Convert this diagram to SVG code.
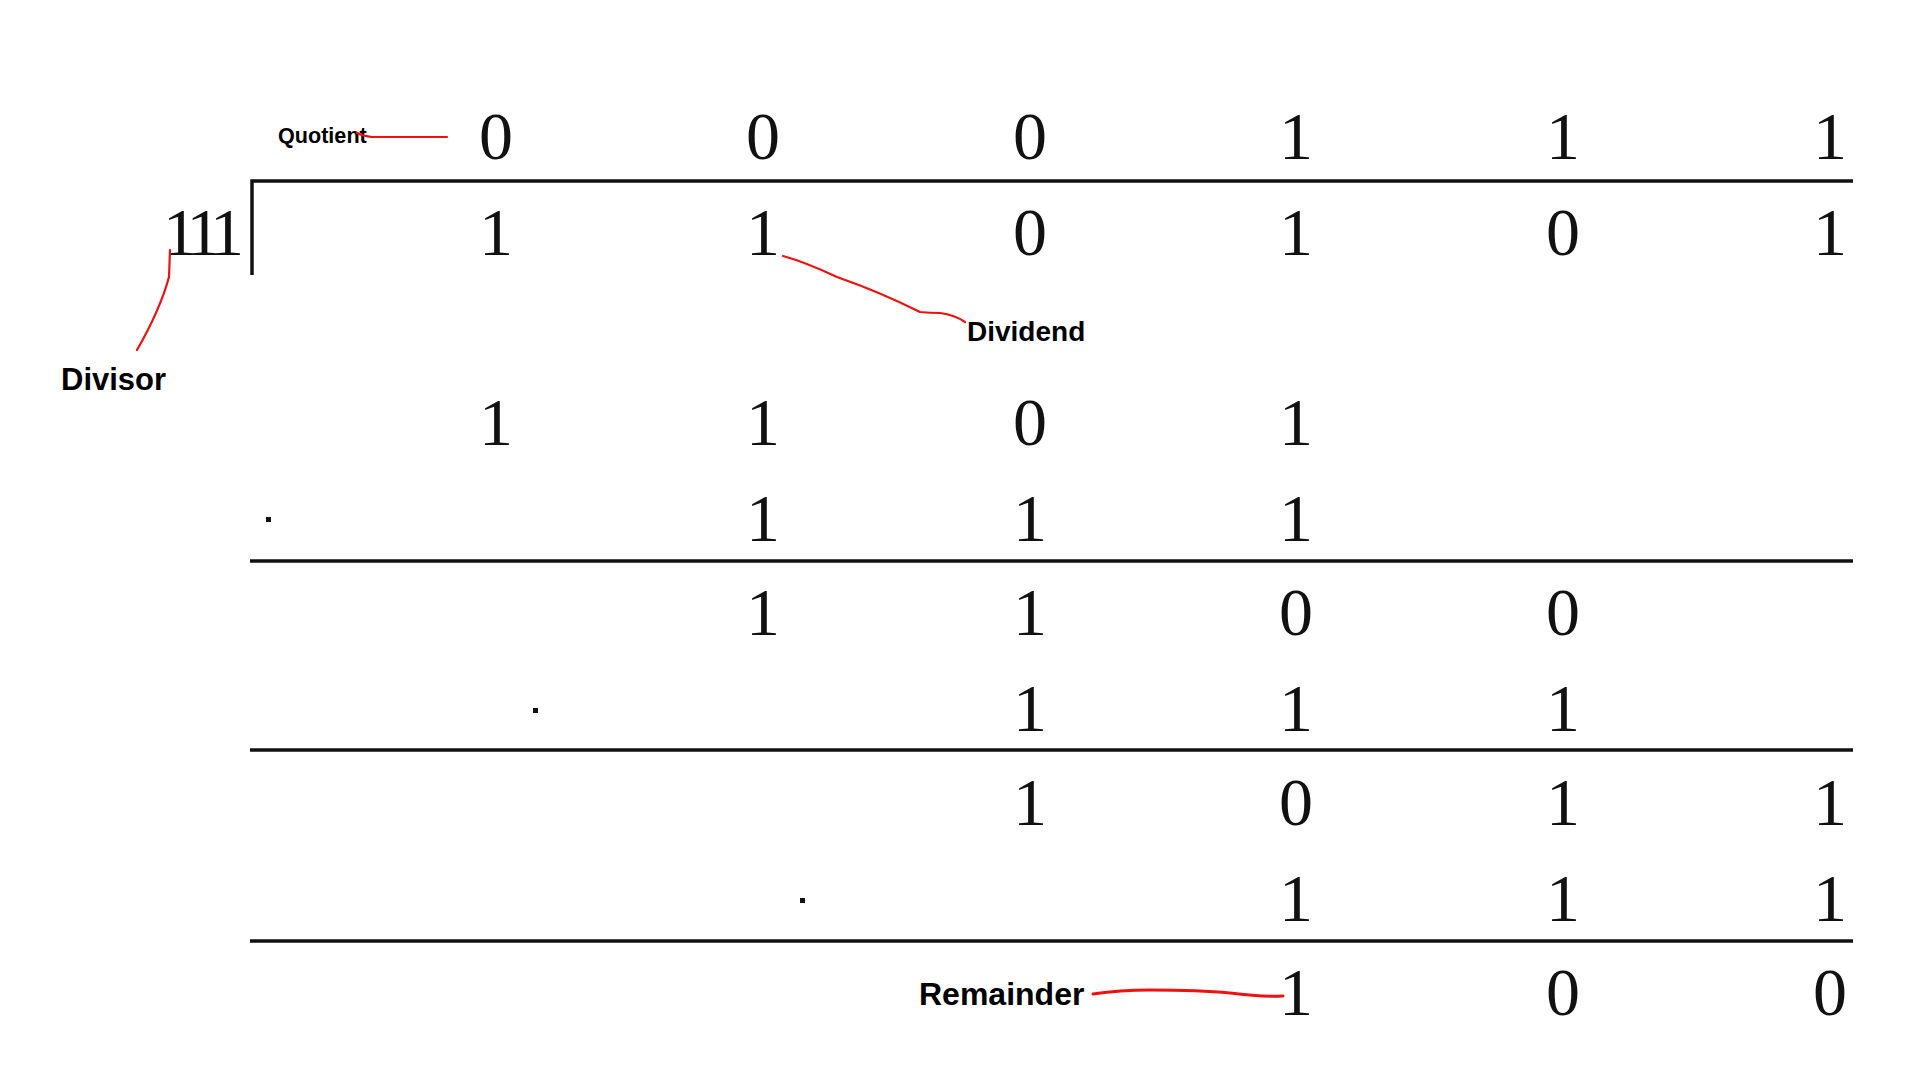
<svg xmlns="http://www.w3.org/2000/svg" width="1920" height="1080" viewBox="0 0 1920 1080">
<style>
.d{font-family:"Liberation Serif","Times New Roman",serif;font-size:68px;fill:#111;text-anchor:middle}
.lbl{font-family:"Liberation Sans",Arial,Helvetica,sans-serif;font-weight:bold;fill:#000}
.rule{stroke:#111;stroke-width:3.5;fill:none}
.red{stroke:#f01010;stroke-width:2.2;fill:none;stroke-linecap:round}
.dot{fill:#111}
</style>
<rect width="1920" height="1080" fill="#fff"/>
<g id="rules">
<path class="rule" d="M252 275 V181 H1853"/>
<line class="rule" x1="250" y1="561" x2="1853" y2="561"/>
<line class="rule" x1="250" y1="750" x2="1853" y2="750"/>
<line class="rule" x1="250" y1="941" x2="1853" y2="941"/>
</g>
<g id="dots">
<rect class="dot" x="266" y="517" width="5" height="5"/>
<rect class="dot" x="533" y="708" width="5" height="5"/>
<rect class="dot" x="800" y="898" width="5" height="5"/>
</g>
<g id="divisor-digits"><text class="d" x="163" y="255" style="text-anchor:start;letter-spacing:-8px">111</text></g>
<g id="quotient-row">
<text class="d" x="496" y="159">0</text><text class="d" x="763" y="159">0</text><text class="d" x="1030" y="159">0</text><text class="d" x="1296" y="159">1</text><text class="d" x="1563" y="159">1</text><text class="d" x="1830" y="159">1</text>
</g>
<g id="dividend-row">
<text class="d" x="496" y="255">1</text><text class="d" x="763" y="255">1</text><text class="d" x="1030" y="255">0</text><text class="d" x="1296" y="255">1</text><text class="d" x="1563" y="255">0</text><text class="d" x="1830" y="255">1</text>
</g>
<g id="step1">
<text class="d" x="496" y="445">1</text><text class="d" x="763" y="445">1</text><text class="d" x="1030" y="445">0</text><text class="d" x="1296" y="445">1</text>
<text class="d" x="763" y="541">1</text><text class="d" x="1030" y="541">1</text><text class="d" x="1296" y="541">1</text>
</g>
<g id="step2">
<text class="d" x="763" y="635">1</text><text class="d" x="1030" y="635">1</text><text class="d" x="1296" y="635">0</text><text class="d" x="1563" y="635">0</text>
<text class="d" x="1030" y="731">1</text><text class="d" x="1296" y="731">1</text><text class="d" x="1563" y="731">1</text>
</g>
<g id="step3">
<text class="d" x="1030" y="825">1</text><text class="d" x="1296" y="825">0</text><text class="d" x="1563" y="825">1</text><text class="d" x="1830" y="825">1</text>
<text class="d" x="1296" y="921">1</text><text class="d" x="1563" y="921">1</text><text class="d" x="1830" y="921">1</text>
</g>
<g id="remainder-row">
<text class="d" x="1296" y="1015">1</text><text class="d" x="1563" y="1015">0</text><text class="d" x="1830" y="1015">0</text>
</g>
<g id="label-quotient"><text class="lbl" x="278" y="143" font-size="21.6">Quotient</text></g>
<g id="label-divisor"><text class="lbl" x="61" y="390" font-size="31">Divisor</text></g>
<g id="label-dividend"><text class="lbl" x="967" y="341" font-size="28">Dividend</text></g>
<g id="label-remainder"><text class="lbl" x="919" y="1005" font-size="32">Remainder</text></g>
<g id="connectors">
<path class="red" d="M357 133 Q363 136 372 137 L447 137"/>
<path class="red" d="M170 250 L169 277 Q160 310 137 350"/>
<path class="red" d="M783 256 Q805 262 837 277 Q880 292 920 312 Q930 313 940 313 Q955 315 965 322"/>
<path class="red" d="M1093 994 Q1120 990 1150 990 Q1200 990 1230 993 Q1260 997 1283 996" style="stroke-width:3"/>
</g>
</svg>
